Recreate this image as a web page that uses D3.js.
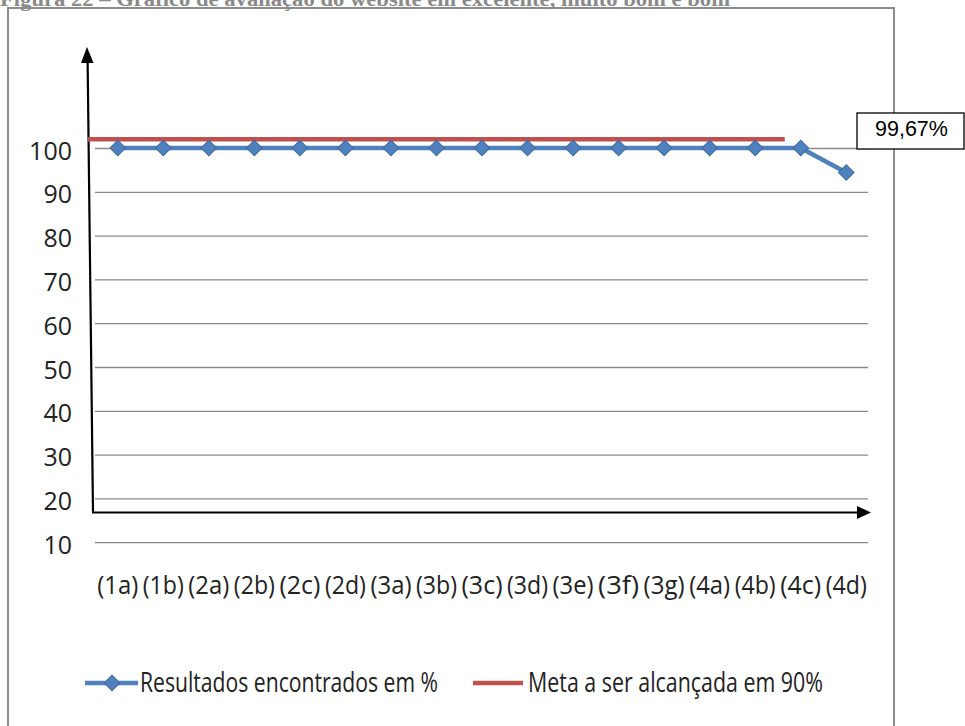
<!DOCTYPE html>
<html>
<head>
<meta charset="utf-8">
<script src="https://cdn.jsdelivr.net/npm/d3@7"></script>
<style>
  body { margin: 0; background: #fff; }
  svg { display: block; }
</style>
</head>
<body>
<svg id="chart" width="965" height="726"></svg>
<script>
// values
var categories = ["(1a)", "(1b)", "(2a)", "(2b)", "(2c)", "(2d)", "(3a)", "(3b)", "(3c)",
                  "(3d)", "(3e)", "(3f)", "(3g)", "(4a)", "(4b)", "(4c)", "(4d)"];
var resultados = [100, 100, 100, 100, 100, 100, 100, 100, 100,
                  100, 100, 100, 100, 100, 100, 100, 94.4];
var metaValue = 102;          // where the red target line is drawn
var metaEnd = "(4c)";         // red line stops just past this category
var yTicks = [10, 20, 30, 40, 50, 60, 70, 80, 90, 100];
var mediaLabel = "99,67%";
var title = "Figura 22 – Gráfico de avaliação do website em excelente, muito bom e bom";
var legendNames = ["Resultados encontrados em %", "Meta a ser alcançada em 90%"];

var blue = "#4f81bd", red = "#c0504d";
var font = "'Open Sans', sans-serif";

var svg = d3.select("#chart");

svg.append("text")
    .attr("x", 0).attr("y", 6)
    .attr("textLength", 730).attr("lengthAdjust", "spacingAndGlyphs")
    .style("font-family", "'Liberation Serif', serif")
    .style("font-weight", "bold").style("font-size", "20px")
    .attr("fill", "#8a8a8a")
    .text(title);

// frame
svg.append("rect")
    .attr("x", 8).attr("y", 8).attr("width", 886).attr("height", 800)
    .attr("fill", "none").attr("stroke", "#8c8c8c").attr("stroke-width", 2);

var x = d3.scaleBand().domain(categories).range([95, 869]);
var y = d3.scaleLinear().domain([0, 100]).range([586, 148]);

// gridlines + y labels
var yAxis = svg.append("g")
    .attr("transform", "translate(95,0)")
    .call(d3.axisLeft(y).tickValues(yTicks).tickSize(-773).tickPadding(23));
yAxis.select(".domain").remove();
yAxis.selectAll(".tick line").attr("stroke", "#8a8a8a").attr("stroke-width", 1.3);
yAxis.selectAll(".tick text")
    .attr("dy", "0.44em")
    .style("font-family", font).style("font-size", "25px").attr("fill", "#222");

// x labels
var xAxis = svg.append("g")
    .attr("transform", "translate(0,594)")
    .call(d3.axisBottom(x).tickSize(0));
xAxis.select(".domain").remove();
xAxis.selectAll(".tick text")
    .attr("y", 0).attr("dy", 0)
    .attr("textLength", 41).attr("lengthAdjust", "spacingAndGlyphs")
    .style("font-family", font).style("font-size", "25px").attr("fill", "#222");

// hand drawn arrows
svg.append("path").attr("d", "M93,512 L87.6,60").attr("stroke", "#000").attr("stroke-width", 2.2).attr("fill", "none");
svg.append("path").attr("d", "M87,47 L81,63 L93.5,63 Z").attr("fill", "#000");
svg.append("path").attr("d", "M92,512.5 L858,512.5").attr("stroke", "#000").attr("stroke-width", 2.2);
svg.append("path").attr("d", "M871,512.5 L857,506 L857,519 Z").attr("fill", "#000");

// target line
svg.append("line")
    .attr("x1", 88).attr("x2", x(metaEnd) + x.bandwidth() * 0.15)
    .attr("y1", y(metaValue)).attr("y2", y(metaValue))
    .attr("stroke", red).attr("stroke-width", 4.5);

// results line
var line = d3.line()
    .x(function(d, i){ return x(categories[i]) + x.bandwidth() / 2; })
    .y(function(d){ return y(d); });

svg.append("path")
    .datum(resultados)
    .attr("d", line)
    .attr("fill", "none").attr("stroke", blue).attr("stroke-width", 4.5);

var diamond = d3.symbol().type(d3.symbolSquare).size(120);
svg.selectAll(".pt")
    .data(resultados)
    .enter().append("path")
    .attr("class", "pt")
    .attr("d", diamond)
    .attr("transform", function(d, i){
        return "translate(" + (x(categories[i]) + x.bandwidth() / 2) + "," + y(d) + ") rotate(45)";
    })
    .attr("fill", blue).attr("stroke", "#3d6ba3").attr("stroke-width", 1);

// average box
svg.append("rect")
    .attr("x", 857).attr("y", 113).attr("width", 107).attr("height", 36)
    .attr("fill", "#fff").attr("stroke", "#000").attr("stroke-width", 1.3);
svg.append("text")
    .attr("x", 875).attr("y", 136)
    .style("font-family", "'Liberation Sans', Arial, sans-serif").style("font-size", "21.5px")
    .text(mediaLabel);

// legend
var lg = svg.append("g");
lg.append("line").attr("x1", 85).attr("x2", 138).attr("y1", 683).attr("y2", 683)
    .attr("stroke", blue).attr("stroke-width", 4.5);
lg.append("path").attr("d", diamond).attr("transform", "translate(112,683) rotate(45)")
    .attr("fill", blue).attr("stroke", "#3d6ba3");
lg.append("text").attr("x", 140).attr("y", 692)
    .attr("textLength", 298).attr("lengthAdjust", "spacingAndGlyphs")
    .style("font-family", font).style("font-size", "27px").attr("fill", "#222")
    .text(legendNames[0]);
lg.append("line").attr("x1", 473).attr("x2", 523).attr("y1", 683).attr("y2", 683)
    .attr("stroke", red).attr("stroke-width", 4.5);
lg.append("text").attr("x", 528).attr("y", 692)
    .attr("textLength", 295).attr("lengthAdjust", "spacingAndGlyphs")
    .style("font-family", font).style("font-size", "27px").attr("fill", "#222")
    .text(legendNames[1]);
</script>
</body>
</html>
